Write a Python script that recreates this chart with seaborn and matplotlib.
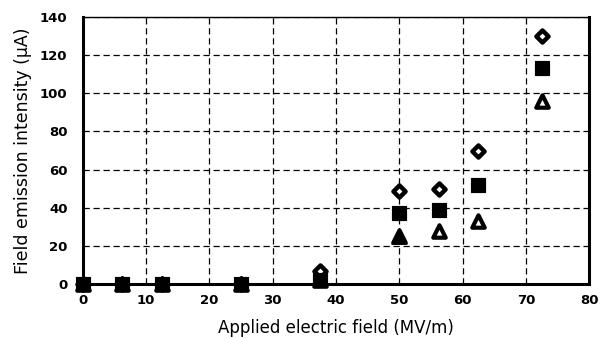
import pandas as pd
import matplotlib
matplotlib.use("Agg")
import matplotlib.pyplot as plt
import seaborn as sns

# field values (MV/m)
field = [0, 6.25, 12.5, 25, 37.5, 50, 56.25, 62.5, 72.5]
# emission current (uA) for the three samples
diamond_vals = [0, 0, 0, 0, 7, 49, 50, 70, 130]
square_vals = [0, 0, 0, 0, 2, 37, 39, 52, 113]
triangle_vals = [0, 0, 0, 0, 2, 25, 28, 33, 96]

sns.set_style("white")
plt.rcParams['font.family'] = ['DejaVu Sans']
plt.rcParams['text.color'] = 'black'
plt.rcParams['axes.labelcolor'] = 'black'
plt.rcParams['xtick.color'] = 'black'
plt.rcParams['ytick.color'] = 'black'

fig = plt.figure(figsize=(6, 3.39), dpi=100)
ax = fig.add_axes([0.138, 0.162, 0.844, 0.788])

ax.grid(True, color='black', linestyle=(0, (5, 3)), linewidth=0.9)
ax.set_axisbelow(True)

# triangles (open, except the one at 50 which looks filled)
tri_df = pd.DataFrame({'x': field, 'y': triangle_vals})
sns.scatterplot(data=tri_df, x='x', y='y', marker='^', s=80, color='white',
                edgecolor='black', linewidth=3.0, ax=ax, zorder=3)
sns.scatterplot(x=[field[5]], y=[triangle_vals[5]], marker='^', s=120,
                color='black', edgecolor='black', ax=ax, zorder=4)

dia_df = pd.DataFrame({'x': field, 'y': diamond_vals})
sns.scatterplot(data=dia_df, x='x', y='y', marker='D', s=38, color='white',
                edgecolor='black', linewidth=3.2, ax=ax, zorder=4)

sq_df = pd.DataFrame({'x': field, 'y': square_vals})
sns.scatterplot(data=sq_df, x='x', y='y', marker='s', s=110, color='black',
                edgecolor='black', ax=ax, zorder=5)

ax.set_xlim(0, 80)
ax.set_ylim(0, 140)
ax.set_xticks(range(0, 81, 10))
ax.set_yticks(range(0, 141, 20))
ax.tick_params(axis='x', labelsize=9.5, length=0, pad=7)
ax.tick_params(axis='y', labelsize=9.5, length=0, pad=11)
for lab in ax.get_xticklabels() + ax.get_yticklabels():
    lab.set_fontweight('bold')

ax.set_xlabel('Applied electric field (MV/m)', fontsize=12, labelpad=9)
ax.set_ylabel('Field emission intensity (\u03bcA)', fontsize=12.5, labelpad=6)

for side in ['left', 'bottom', 'right']:
    ax.spines[side].set_linewidth(2.2)
    ax.spines[side].set_color('black')
ax.spines['top'].set_linewidth(1.0)
ax.spines['top'].set_linestyle((0, (2, 1)))
ax.spines['top'].set_color('black')

for coll in ax.collections:
    coll.set_clip_on(False)

fig.savefig('out.png', dpi=100)
